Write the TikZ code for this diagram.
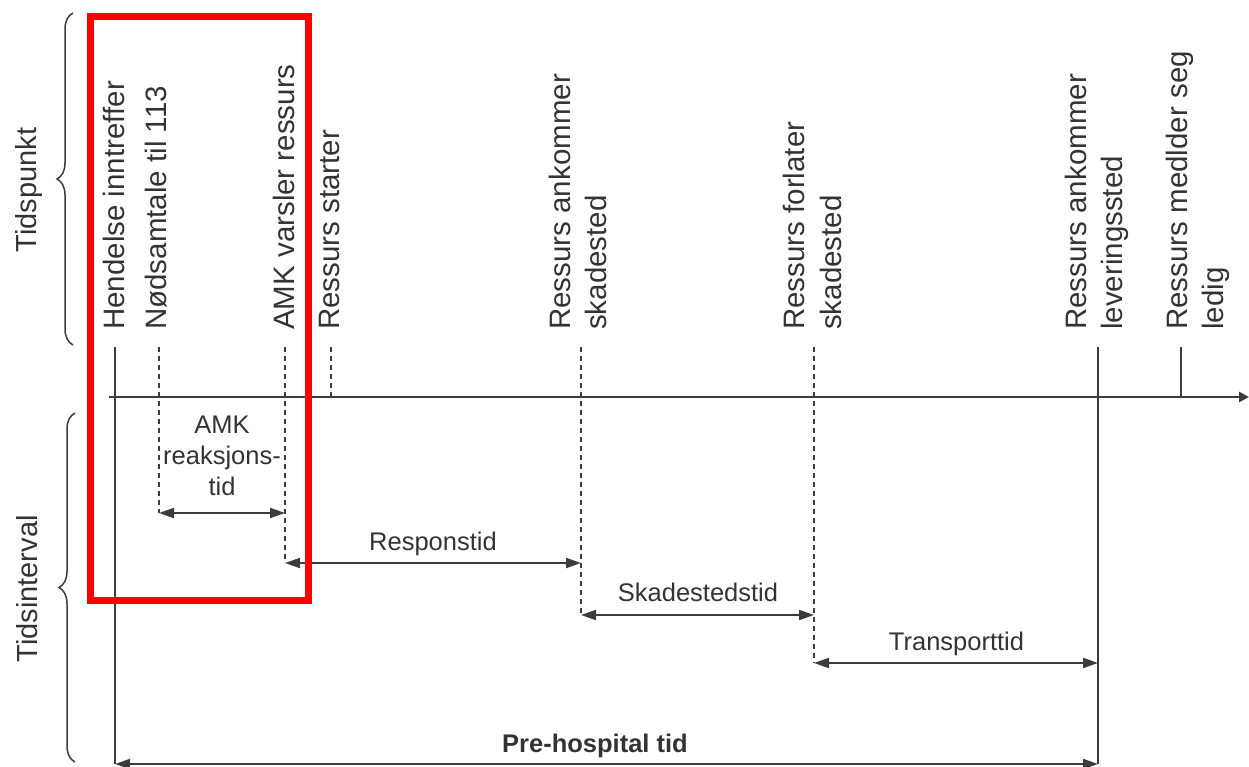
\documentclass[tikz,border=0pt]{standalone}
\usepackage{fontspec}
\setmainfont{Liberation Sans}
\usetikzlibrary{arrows.meta,decorations.pathreplacing}
\definecolor{ink}{HTML}{333333}
\definecolor{linegrey}{HTML}{3C3C3C}
\definecolor{highlight}{HTML}{FF0000}
\begin{document}
\begin{tikzpicture}[x=1pt,y=-1pt,
  event/.style={rotate=90, anchor=west, inner sep=0pt, align=left,
    font=\fontsize{29.5}{36.5}\selectfont, text=ink},
  side/.style={rotate=90, inner sep=0pt, font=\fontsize{29}{34}\selectfont, text=ink},
  span/.style={inner sep=0pt, font=\fontsize{25.5}{31}\selectfont, text=ink},
  solidtick/.style={draw=linegrey, line width=1.5pt},
  dashtick/.style={draw=linegrey, line width=1.5pt, dash pattern=on 5pt off 4pt},
  interval/.style={draw=linegrey, line width=2pt,
    {Triangle[length=15pt,width=10pt]}-{Triangle[length=15pt,width=10pt]}},
  timeaxis/.style={draw=linegrey, line width=2.5pt, -{Triangle[length=10pt,width=10pt]}},
  curly/.style={draw=linegrey, line width=1.5pt, decorate,
    decoration={brace, amplitude=16pt}},
]
\useasboundingbox (0,0) rectangle (1249,767);

% side labels and braces
\node[side] (tidspunkt) at (29.5,190) {Tidspunkt};
\node[side] (tidsinterval) at (27,589) {Tidsinterval};
\draw[curly] (73,345) -- (73,13);
\draw[curly] (75,762) -- (75,413);

% event labels
\node[event] (hendelse) at (113.5,330) {Hendelse inntreffer};
\node[event] (nodsamtale) at (156.5,330) {Nødsamtale til 113};
\node[event] (varsler) at (283.5,330) {AMK varsler ressurs};
\node[event] (starter) at (329.5,330) {Ressurs starter};
\node[event] (ankommer) at (578,330) {Ressurs ankommer\\skadested};
\node[event] (forlater) at (812.5,330) {Ressurs forlater\\skadested};
\node[event] (levering) at (1097,330) {Ressurs ankommer\\leveringssted};
\node[event] (ledig) at (1198,330) {Ressurs medlder seg\\ledig};

% tick tops
\coordinate (t1) at (115,347);
\coordinate (t2) at (159,347);
\coordinate (t3) at (285,347);
\coordinate (t4) at (331,347);
\coordinate (t5) at (581,347);
\coordinate (t6) at (814,347);
\coordinate (t7) at (1098,347);
\coordinate (t8) at (1181,347);

% time axis
\coordinate (axisL) at (109,397);
\coordinate (axisR) at (1249,397);

% interval end points
\coordinate (amkL) at (159,513);
\coordinate (amkR) at (285,513);
\coordinate (respL) at (285,563);
\coordinate (respR) at (581,563);
\coordinate (skadL) at (581,615);
\coordinate (skadR) at (814,615);
\coordinate (transL) at (814,663);
\coordinate (transR) at (1098,663);
\coordinate (preL) at (115,764);
\coordinate (preR) at (1098,764);

% ticks
\draw[solidtick] (t1) -- (preL);
\draw[dashtick] (t2) -- (amkL);
\draw[dashtick] (t3) -- (respL);
\draw[dashtick] (t4) -- (t4 |- axisL);
\draw[dashtick] (t5) -- (skadL);
\draw[dashtick] (t6) -- (transL);
\draw[solidtick] (t7) -- (preR);
\draw[solidtick] (t8) -- (t8 |- axisL);

\draw[timeaxis] (axisL) -- (axisR);

% intervals
\draw[interval] (amkL) -- (amkR);
\draw[interval] (respL) -- (respR);
\draw[interval] (skadL) -- (skadR);
\draw[interval] (transL) -- (transR);
\draw[interval] (preL) -- (preR);

\node[span, align=center] (amktxt) at (222,456) {AMK\\reaksjons-\\tid};
\node[span, anchor=base] (resptxt) at (433,550) {Responstid};
\node[span, anchor=base] (skadtxt) at (698,601.5) {Skadestedstid};
\node[span, anchor=base] (transtxt) at (956.5,650) {Transporttid};
\node[span, anchor=base, font=\bfseries\fontsize{25.5}{31}\selectfont] (pretxt) at (595,752) {Pre-hospital tid};

% highlight frame
\draw[highlight, line width=7pt] (90.5,16.5) rectangle (308.5,600.5);
\end{tikzpicture}
\end{document}
